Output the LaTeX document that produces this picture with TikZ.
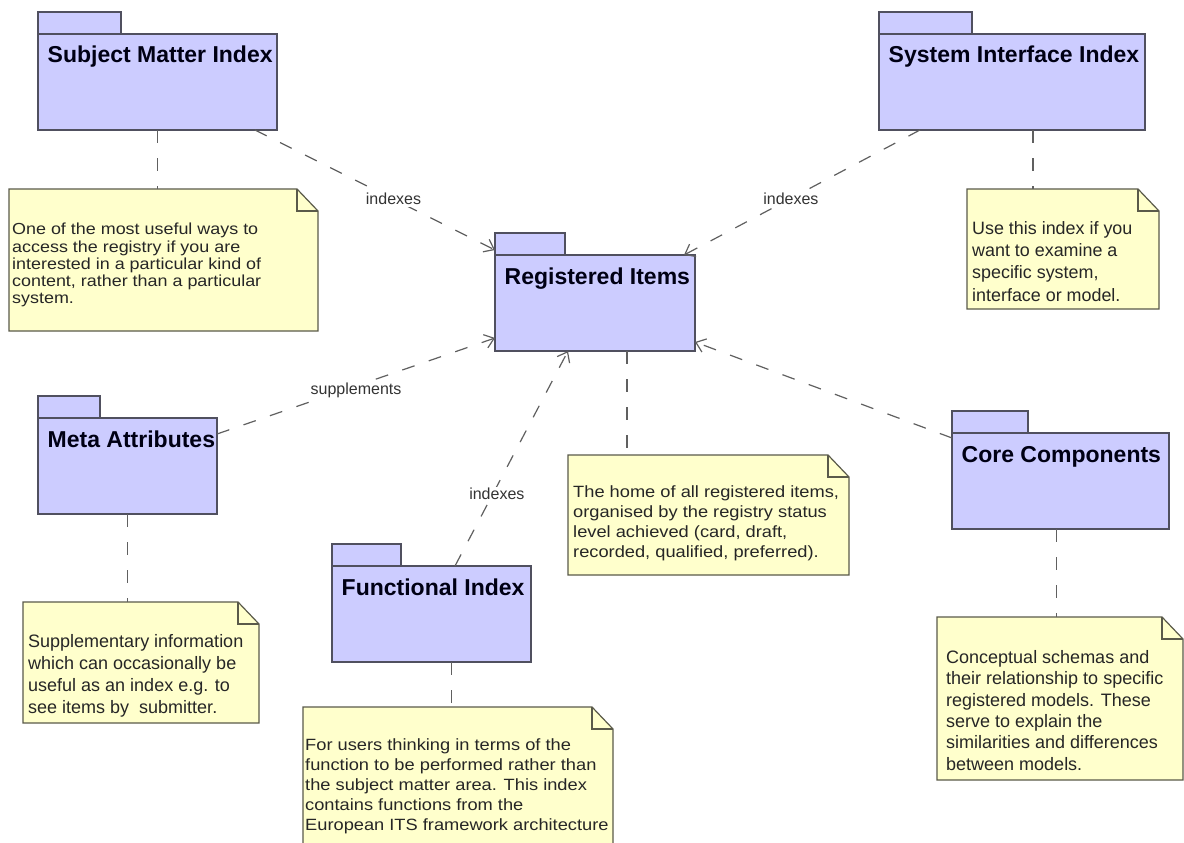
\documentclass[tikz,border=0pt]{standalone}
\usepackage{fontspec}
\setmainfont{Liberation Sans}
\newfontfamily\notewide[FakeStretch=1.12]{Liberation Sans}
\usetikzlibrary{arrows.meta}
\definecolor{pkgfill}{HTML}{CCCCFF}
\definecolor{pkgline}{HTML}{50505F}
\definecolor{notefill}{HTML}{FFFFCC}
\definecolor{noteline}{HTML}{5A5A4A}
\definecolor{conn}{HTML}{606060}
\tikzset{
  pkgbody/.style={draw=pkgline, fill=pkgfill, line width=1.3pt, inner sep=0pt, outer sep=0pt, anchor=north west},
  pkgtab/.style={draw=pkgline, fill=pkgfill, line width=1.3pt},
  pkgtitle/.style={font=\fontsize{23}{27}\selectfont\bfseries, text=black!92!blue, inner sep=0pt, anchor=base west},
  notebody/.style={inner sep=0pt, outer sep=0pt, anchor=north west},
  notebox/.style={draw=noteline, fill=notefill, line width=1.2pt, line join=miter},
  notetext/.style={inner sep=0pt, anchor=north west, align=left, text=black!85},
  link/.style={draw=conn, line width=1.2pt, dash pattern=on 13pt off 15pt},
  dep/.style={link, -{Straight Barb[length=9pt,width=14pt]}},
  lbl/.style={font=\fontsize{16}{19}\selectfont, fill=white, inner sep=1.5pt, text=black!80},
}
% name, x, y (body top), width, height, tab width, title
\newcommand\umlpkg[7]{%
  \node[pkgbody, minimum width=#4, minimum height=#5] (#1) at (#2,#3) {};
  \draw[pkgtab] (#1.north west) rectangle ++(#6,-22);
  \node[pkgtitle] (#1t) at ([xshift=9.5pt,yshift=-29pt]#1.north west) {#7};
}
% name, x, y, width, height, text x offset, text top offset, font, text
\newcommand\umlnote[9]{%
  \node[notebody, minimum width=#4, minimum height=#5] (#1) at (#2,#3) {};
  \draw[notebox] (#1.north west) -- ([xshift=-21pt]#1.north east) -- ([yshift=-22pt]#1.north east)
     -- (#1.south east) -- (#1.south west) -- cycle;
  \draw[notebox, fill=none] ([xshift=-21pt]#1.north east) |- ([yshift=-22pt]#1.north east);
  \node[notetext, font=#8] (#1t) at ([xshift=#6pt,yshift=-#7pt]#1.north west) {#9};
}
\begin{document}
\begin{tikzpicture}[x=1pt,y=-1pt]
\fill[white] (0,0) rectangle (1184,843);
\useasboundingbox (0,0) rectangle (1184,843);

% packages
\umlpkg{smi}{38}{34}{239}{96}{83}{Subject Matter Index}
\umlpkg{sii}{879}{34}{266}{96}{93}{System Interface Index}
\umlpkg{ri}{495}{255}{200}{96}{70}{Registered Items}
\umlpkg{ma}{38}{418}{179}{96}{62}{Meta Attributes}
\umlpkg{fi}{332}{566}{199}{96}{69}{Functional Index}
\umlpkg{cc}{952}{433}{217}{96}{76}{Core Components}

% notes
\umlnote{smn}{9}{189}{309}{142}{3}{34}{\notewide\fontsize{16}{17.25}\selectfont}%
  {One of the most useful ways to\\access the registry if you are\\interested in a particular kind of\\content, rather than a particular\\system.}
\umlnote{sin}{967}{189}{192}{120}{5}{32}{\fontsize{17.9}{22.3}\selectfont}%
  {Use this index if you\\want to examine a\\specific system,\\interface or model.}
\umlnote{rin}{568}{455}{281}{120}{5}{30}{\notewide\fontsize{16.3}{20}\selectfont}%
  {The home of all registered items,\\organised by the registry status\\level achieved (card, draft,\\recorded, qualified, preferred).}
\umlnote{man}{23}{602}{236}{121}{5}{32}{\fontsize{18}{22}\selectfont}%
  {Supplementary information\\which can occasionally be\\useful as an index e.g. to\\see items by\ \ submitter.}
\umlnote{fin}{303}{707}{310}{140}{2}{31}{\notewide\fontsize{16.3}{20}\selectfont}%
  {For users thinking in terms of the\\function to be performed rather than\\the subject matter area. This index\\contains functions from the\\European ITS framework architecture}
\umlnote{ccn}{937}{617}{246}{163}{9}{33}{\fontsize{18}{21.4}\selectfont}%
  {Conceptual schemas and\\their relationship to specific\\registered models. These\\serve to explain the\\similarities and differences\\between models.}

% note attachments
\draw[link] (smi.south) -- (smi.south |- smn.north);
\draw[link] ([xshift=21pt]sii.south) -- ([xshift=21pt]sii.south |- sin.north);
\draw[link] ([xshift=32pt]ri.south) -- ([xshift=32pt]ri.south |- rin.north);
\draw[link] (ma.south) -- (ma.south |- man.north);
\draw[link] ([xshift=20pt]fi.south) -- ([xshift=20pt]fi.south |- fin.north);
\draw[link] ([xshift=-4pt]cc.south) -- ([xshift=-4pt]cc.south |- ccn.north);

% dependencies
\draw[dep] ([xshift=-22pt]smi.south east) -- node[lbl, pos=0.577] (l1) {indexes} ([yshift=5pt]ri.north west);
\draw[dep] ([xshift=41pt]sii.south west) -- node[lbl, pos=0.547] (l2) {indexes} ([xshift=-11pt]ri.north east);
\draw[dep] ([yshift=-16pt]ma.north east) -- node[lbl, pos=0.5, yshift=-4pt] (l3) {supplements} ([yshift=13pt]ri.south west);
\draw[dep] ([xshift=123pt]fi.north west) -- node[lbl, pos=0.335, xshift=4pt] (l4) {indexes} ([xshift=73pt]ri.south west);
\draw[dep] ([yshift=-5pt]cc.north west) -- ([yshift=9pt]ri.south east);
\end{tikzpicture}
\end{document}
